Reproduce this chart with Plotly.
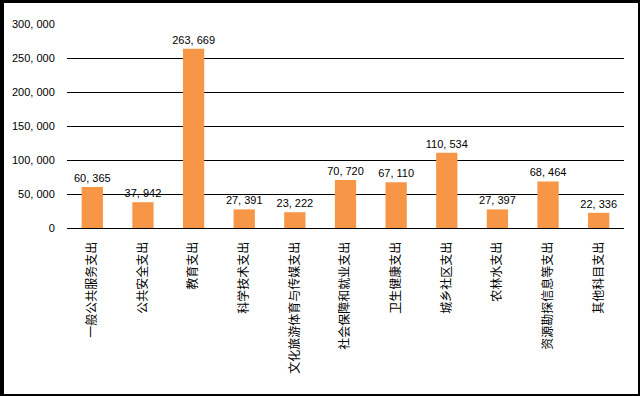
import plotly.graph_objects as go

categories = ["一般公共服务支出", "公共安全支出", "教育支出", "科学技术支出", "文化旅游体育与传媒支出",
              "社会保障和就业支出", "卫生健康支出", "城乡社区支出", "农林水支出", "资源勘探信息等支出", "其他科目支出"]
values = [60365, 37942, 263669, 27391, 23222, 70720, 67110, 110534, 27397, 68464, 22336]
y_ticks = [0, 50000, 100000, 150000, 200000, 250000, 300000]

def fmt(v):
    return f"{v:,}".replace(",", ", ")

W, H = 640, 396
ml, mr, mt, mb = 67, 16, 24, 168
pw, ph = W - ml - mr, H - mt - mb

def px(x):
    return (x - ml) / pw

def py(y):
    return (H - mb - y) / ph

def block(x0, y0, x1, y1):
    return dict(type="rect", xref="paper", yref="paper", x0=px(x0), x1=px(x1), y0=py(y1), y1=py(y0),
                fillcolor="black", line=dict(width=0), layer="above")

fig = go.Figure(go.Bar(
    x=categories, y=values,
    marker=dict(color="#F79646", line=dict(width=0)),
    text=[fmt(v) for v in values], textposition="outside",
    textfont=dict(family="Liberation Sans", size=11, color="black"),
    constraintext="none",
    cliponaxis=False,
))

fig.update_layout(
    width=W, height=H,
    margin=dict(l=ml, r=mr, t=mt, b=mb, autoexpand=False),
    paper_bgcolor="white", plot_bgcolor="white",
    bargap=0.58, showlegend=False,
    font=dict(family="Noto Sans CJK SC", size=11, color="black"),
    xaxis=dict(tickangle=-90, showgrid=False, showline=False, ticks="outside", ticklen=0,
               ticklabelstandoff=8, automargin=False,
               tickfont=dict(family="Noto Sans CJK SC", size=12)),
    yaxis=dict(range=[0, 300000], tickvals=y_ticks, ticktext=[fmt(v) for v in y_ticks],
               showgrid=True, gridcolor="black", gridwidth=1, zeroline=True, zerolinecolor="black",
               zerolinewidth=1, showline=False, ticks="outside", ticklen=0, ticklabelstandoff=9,
               automargin=False, tickfont=dict(family="Liberation Sans", size=11)),
    shapes=[block(0, 0, 4, H), block(0, 0, W, 3), block(638, 0, W, H), block(0, 394, W, H)],
)

fig.write_html("out.html", config={"displayModeBar": False},
               post_script="document.body.style.margin='0';document.body.style.overflow='hidden';")
